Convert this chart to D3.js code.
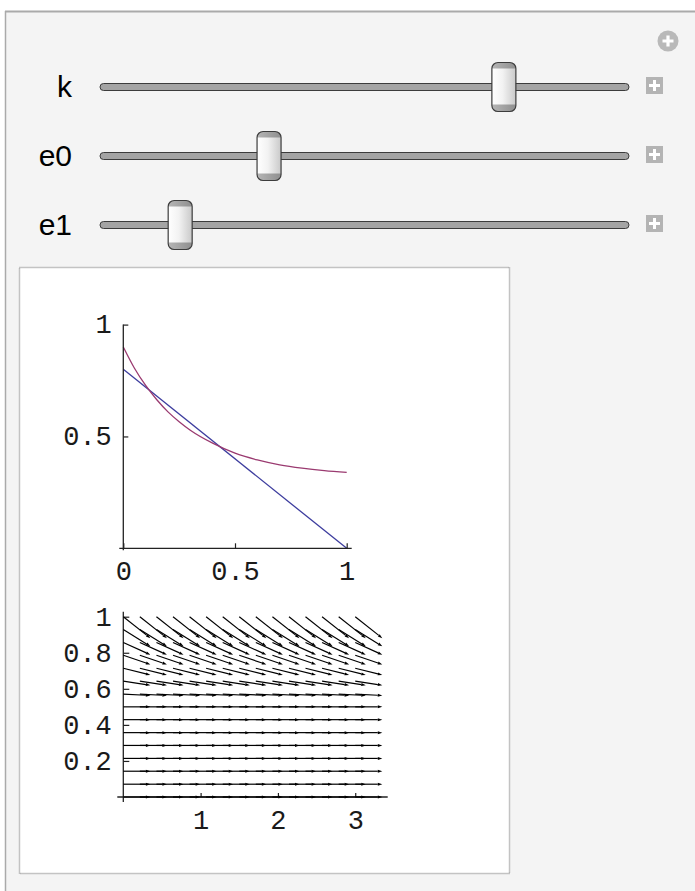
<!DOCTYPE html>
<html><head><meta charset="utf-8">
<script src="https://cdn.jsdelivr.net/npm/d3@7"></script>
<style>html,body{margin:0;padding:0;background:#fff;}svg{display:block;}</style>
</head><body>
<svg id="c" width="695" height="891"></svg>
<script>
// ---- data ----
const sliderNames = ["k", "e0", "e1"];
const sliderValues = [0.776, 0.311, 0.135]; // thumb position as fraction of track

// plot 1
const lineX = [0, 1];
const lineY = [0.8, 0.0];
const curveX = [0, 0.05, 0.1, 0.15, 0.2, 0.25, 0.3, 0.4, 0.5, 0.6, 0.7, 0.8, 0.9, 1.0];
const curveY = [0.900, 0.805, 0.728, 0.664, 0.610, 0.566, 0.528, 0.470, 0.425, 0.395, 0.373, 0.358, 0.347, 0.339];
const p1XTicks = [0, 0.5, 1];
const p1XLabels = ["0", "0.5", "1"];
const p1YTicks = [0.5, 1];
const p1YLabels = ["0.5", "1"];

// plot 2 (vector field): tails at grid points, field independent of x
const fieldX = [0, 0.214, 0.429, 0.643, 0.857, 1.071, 1.286, 1.5, 1.714, 1.929, 2.143, 2.357, 2.571, 2.786, 3.0];
const fieldY = [0, 0.071, 0.143, 0.214, 0.286, 0.357, 0.429, 0.5, 0.571, 0.643, 0.714, 0.786, 0.857, 0.929, 1.0];
const fieldDX = [0.35, 0.35, 0.35, 0.35, 0.35, 0.35, 0.35, 0.35, 0.35, 0.35, 0.35, 0.35, 0.35, 0.35, 0.35];
const fieldDY = [0, 0, 0, 0, 0, 0, 0, 0, -0.008, -0.023, -0.037, -0.051, -0.068, -0.093, -0.119];
const p2XTicks = [1, 2, 3];
const p2XLabels = ["1", "2", "3"];
const p2YTicks = [0.2, 0.4, 0.6, 0.8, 1];
const p2YLabels = ["0.2", "0.4", "0.6", "0.8", "1"];

// ---- drawing ----
const svg = d3.select("#c");
const defs = svg.append("defs");

// panel
svg.append("rect").attr("x", 5).attr("y", 11).attr("width", 700).attr("height", 890).attr("fill", "#f4f4f4");
svg.append("line").attr("x1", 5).attr("x2", 695).attr("y1", 11.5).attr("y2", 11.5).attr("stroke", "#aaaaaa").attr("stroke-width", 2);
svg.append("line").attr("x1", 5.5).attr("x2", 5.5).attr("y1", 11).attr("y2", 891).attr("stroke", "#aaaaaa").attr("stroke-width", 1.5);

// circle plus icon
const cp = svg.append("g").attr("transform", "translate(668,41)");
cp.append("circle").attr("r", 10.5).attr("fill", "#b9b9b9");
cp.append("path").attr("d", "M-5.5,0H5.5M0,-5.5V5.5").attr("stroke", "#fff").attr("stroke-width", 3.2);

// thumb gradient
const g1 = defs.append("linearGradient").attr("id", "thumbG").attr("x1", 0).attr("x2", 1).attr("y1", 0).attr("y2", 0);
g1.append("stop").attr("offset", "0").attr("stop-color", "#ffffff");
g1.append("stop").attr("offset", "0.45").attr("stop-color", "#f2f2f2");
g1.append("stop").attr("offset", "1").attr("stop-color", "#c9c9c9");
const g2 = defs.append("linearGradient").attr("id", "capG").attr("x1", 0).attr("x2", 1).attr("y1", 0).attr("y2", 0);
g2.append("stop").attr("offset", "0").attr("stop-color", "#b5b5b5");
g2.append("stop").attr("offset", "1").attr("stop-color", "#8f8f8f");

const trackY = [87, 156, 225];
const sx = d3.scaleLinear().domain([0, 1]).range([112, 617]);
sliderNames.forEach((name, i) => {
  const ty = trackY[i];
  const g = svg.append("g");
  g.append("text").attr("x", 72).attr("y", ty + 10).attr("text-anchor", "end")
    .attr("font-family", "Liberation Sans, Arial, sans-serif").attr("font-size", 30).attr("fill", "#000").text(name);
  g.append("rect").attr("x", 100).attr("y", ty - 3.5).attr("width", 529).attr("height", 7).attr("rx", 3.5)
    .attr("fill", "#a4a4a4").attr("stroke", "#3c3c3c").attr("stroke-width", 1);
  const cx = sx(sliderValues[i]);
  const tx = cx - 12, tyTop = ty - 24.5, tw = 24, th = 49;
  defs.append("clipPath").attr("id", "clip" + i).append("rect").attr("x", tx).attr("y", tyTop).attr("width", tw).attr("height", th).attr("rx", 6);
  const t = g.append("g").attr("clip-path", `url(#clip${i})`);
  t.append("rect").attr("x", tx).attr("y", tyTop).attr("width", tw).attr("height", th).attr("fill", "url(#thumbG)");
  t.append("rect").attr("x", tx).attr("y", tyTop).attr("width", tw).attr("height", 6).attr("fill", "url(#capG)");
  t.append("rect").attr("x", tx).attr("y", tyTop + th - 7).attr("width", tw).attr("height", 7).attr("fill", "url(#capG)");
  g.append("rect").attr("x", tx).attr("y", tyTop).attr("width", tw).attr("height", th).attr("rx", 6)
    .attr("fill", "none").attr("stroke", "#3c3c3c").attr("stroke-width", 1.2);
  // plus box
  g.append("rect").attr("x", 646).attr("y", ty - 10).attr("width", 17).attr("height", 17).attr("fill", "#b4b4b4");
  g.append("path").attr("d", `M${649},${ty - 1.5}H${660}M${654.5},${ty - 7}V${ty + 4}`).attr("stroke", "#fff").attr("stroke-width", 3);
});

// inner white box
svg.append("rect").attr("x", 19.5).attr("y", 267.5).attr("width", 490).attr("height", 606)
  .attr("fill", "#fff").attr("stroke", "#8c8c8c").attr("stroke-width", 1.5).attr("stroke-dasharray", "1,1");

const monoFont = "Liberation Mono, DejaVu Sans Mono, monospace";
const fs = 27;

function styleAxis(sel) {
  sel.select(".domain").remove();
  sel.selectAll(".tick line").attr("stroke", "#222").attr("stroke-width", 1.2);
  sel.selectAll(".tick text").attr("font-family", monoFont).attr("font-size", fs).attr("fill", "#1a1a1a");
}

// ---- plot 1 ----
const x1 = d3.scaleLinear().domain([0, 1]).range([123.3, 346.7]);
const y1 = d3.scaleLinear().domain([0, 1]).range([548.3, 324.6]);
const p1 = svg.append("g");
p1.append("path").datum(d3.zip(lineX, lineY))
  .attr("d", d3.line().x(d => x1(d[0])).y(d => y1(d[1])))
  .attr("fill", "none").attr("stroke", "#3d3d9e").attr("stroke-width", 1.3);
p1.append("path").datum(d3.zip(curveX, curveY))
  .attr("d", d3.line().x(d => x1(d[0])).y(d => y1(d[1])).curve(d3.curveMonotoneX))
  .attr("fill", "none").attr("stroke", "#9a3a70").attr("stroke-width", 1.3);
// axis lines
p1.append("line").attr("x1", x1(0) - 4).attr("x2", x1(1) + 5).attr("y1", y1(0)).attr("y2", y1(0)).attr("stroke", "#222").attr("stroke-width", 1.3);
p1.append("line").attr("x1", x1(0)).attr("x2", x1(0)).attr("y1", y1(1)).attr("y2", y1(0) + 2).attr("stroke", "#222").attr("stroke-width", 1.3);
const ax1 = p1.append("g").attr("transform", `translate(0,${y1(0)})`)
  .call(d3.axisBottom(x1).tickValues(p1XTicks).tickFormat((d, i) => p1XLabels[i]).tickSizeInner(-5).tickSizeOuter(0));
styleAxis(ax1);
ax1.selectAll(".tick text").attr("y", 31.5).attr("dy", null);
const ay1 = p1.append("g").attr("transform", `translate(${x1(0)},0)`)
  .call(d3.axisLeft(y1).tickValues(p1YTicks).tickFormat((d, i) => p1YLabels[i]).tickSizeInner(-5).tickSizeOuter(0).tickPadding(11.5));
styleAxis(ay1);
ay1.selectAll(".tick text").attr("dy", "0.31em");

// ---- plot 2 ----
const x2 = d3.scaleLinear().domain([0, 3.42]).range([123.3, 387.7]);
const y2 = d3.scaleLinear().domain([0, 1]).range([797, 616.7]);
const p2 = svg.append("g");
p2.append("line").attr("x1", x2(0) - 6).attr("x2", x2(3.42)).attr("y1", y2(0)).attr("y2", y2(0)).attr("stroke", "#222").attr("stroke-width", 1.3);
p2.append("line").attr("x1", x2(0)).attr("x2", x2(0)).attr("y1", y2(1) - 5).attr("y2", y2(0) + 5).attr("stroke", "#222").attr("stroke-width", 1.3);
const ax2 = p2.append("g").attr("transform", `translate(0,${y2(0)})`)
  .call(d3.axisBottom(x2).tickValues(p2XTicks).tickFormat((d, i) => p2XLabels[i]).tickSizeInner(-4).tickSizeOuter(0));
styleAxis(ax2);
ax2.selectAll(".tick text").attr("y", 31.5).attr("dy", null);
const ay2 = p2.append("g").attr("transform", `translate(${x2(0)},0)`)
  .call(d3.axisLeft(y2).tickValues(p2YTicks).tickFormat((d, i) => p2YLabels[i]).tickSizeInner(-6).tickSizeOuter(0).tickPadding(11.5));
styleAxis(ay2);
ay2.selectAll(".tick text").attr("dy", "0.31em");

// arrows
const arrows = [];
fieldY.forEach((yv, j) => {
  fieldX.forEach(xv => arrows.push({ x: xv, y: yv, dx: fieldDX[j], dy: fieldDY[j] }));
});
const ag = p2.append("g");
arrows.forEach(a => {
  const sx0 = x2(a.x), sy0 = y2(a.y), sx1 = x2(a.x + a.dx), sy1 = y2(a.y + a.dy);
  const ang = Math.atan2(sy1 - sy0, sx1 - sx0);
  const L = 4.5, W = 1.5;
  const bx = sx1 - L * Math.cos(ang), by = sy1 - L * Math.sin(ang);
  const px = -Math.sin(ang) * W, py = Math.cos(ang) * W;
  ag.append("line").attr("x1", sx0).attr("y1", sy0).attr("x2", bx).attr("y2", by)
    .attr("stroke", "#000").attr("stroke-width", 1.2);
  ag.append("path").attr("d", `M${sx1},${sy1}L${bx + px},${by + py}L${bx - px},${by - py}Z`).attr("fill", "#000");
});
</script>
</body></html>
